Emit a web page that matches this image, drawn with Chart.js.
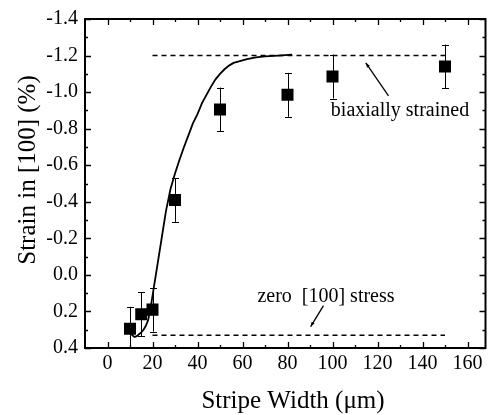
<!DOCTYPE html>
<html>
<head>
<meta charset="utf-8">
<script src="https://cdn.jsdelivr.net/npm/chart.js@4/dist/chart.umd.min.js"></script>
<style>
  html, body { margin: 0; padding: 0; background: #fff; }
  #wrap { width: 494px; height: 415px; }
</style>
</head>
<body>
<div id="wrap"><canvas id="myChart"></canvas></div>
<script>
// Messpunkte: Streifenbreite (µm) und Dehnung in [100] (%)
const widths = [10, 15, 20, 30, 50, 80, 100, 150];
const strain = [0.295, 0.215, 0.19, -0.41, -0.905, -0.985, -1.085, -1.14];
const strainErr = [0.12, 0.12, 0.12, 0.12, 0.12, 0.12, 0.12, 0.12];

// Modellkurve (durchgezogene Linie)
const fitX = [10, 11, 12, 13, 14, 15, 16, 17, 18, 19, 20, 22, 24, 26, 28, 30, 32, 34, 36, 38, 40, 42, 44, 46, 48, 50, 52, 54, 56, 58, 62, 66, 70, 76, 82];
const fitY = [0.30, 0.33, 0.34, 0.335, 0.325, 0.315, 0.30, 0.28, 0.25, 0.195, 0.115, -0.04, -0.195, -0.35, -0.47, -0.555, -0.63, -0.70, -0.765, -0.83, -0.88, -0.94, -0.985, -1.03, -1.07, -1.10, -1.125, -1.145, -1.16, -1.167, -1.18, -1.19, -1.195, -1.20, -1.205];

// Grenzlinien (gestrichelt)
const biaxialX = [20, 150];
const biaxialY = [-1.2, -1.2];
const zeroStressX = [20, 150];
const zeroStressY = [0.33, 0.33];

// Achsenbeschriftungen
const xTicks = [0, 20, 40, 60, 80, 100, 120, 140, 160];
const yTicks = [-1.4, -1.2, -1.0, -0.8, -0.6, -0.4, -0.2, 0.0, 0.2, 0.4];

const serif = "'Liberation Serif', 'Times New Roman', serif";

function pts(xs, ys) {
  return xs.map((x, i) => ({ x: x, y: ys[i] }));
}

// Rahmen, Ticks nach innen, Fehlerbalken, Beschriftungen
const decorations = {
  id: "decorations",
  beforeDatasetsDraw(chart) {
    const ctx = chart.ctx;
    const xs = chart.scales.x, ys = chart.scales.y;
    const a = chart.chartArea;
    ctx.save();
    ctx.beginPath();
    ctx.rect(a.left, a.top, a.right - a.left, a.bottom - a.top);
    ctx.clip();
    ctx.strokeStyle = "#000";
    ctx.lineWidth = 1;
    widths.forEach((w, i) => {
      const px = Math.round(xs.getPixelForValue(w)) + 0.5;
      const top = ys.getPixelForValue(strain[i] - strainErr[i]);
      const bot = ys.getPixelForValue(strain[i] + strainErr[i]);
      ctx.beginPath();
      ctx.moveTo(px, top); ctx.lineTo(px, bot);
      ctx.moveTo(px - 3.5, Math.round(top) + 0.5); ctx.lineTo(px + 3.5, Math.round(top) + 0.5);
      ctx.moveTo(px - 3.5, Math.round(bot) + 0.5); ctx.lineTo(px + 3.5, Math.round(bot) + 0.5);
      ctx.stroke();
    });
    ctx.restore();
  },
  afterDraw(chart) {
    const ctx = chart.ctx;
    const xs = chart.scales.x, ys = chart.scales.y;
    const a = chart.chartArea;
    ctx.save();
    ctx.strokeStyle = "#000";
    ctx.fillStyle = "#000";

    // Rahmen
    ctx.lineWidth = 2;
    ctx.strokeRect(a.left, a.top, a.right - a.left, a.bottom - a.top);

    // Ticks (innen, alle vier Seiten)
    ctx.lineWidth = 1.3;
    ctx.beginPath();
    for (let v = 0; v <= 160; v += 10) {
      const px = Math.round(xs.getPixelForValue(v)) + 0.5;
      const len = v % 20 === 0 ? 6 : 3;
      ctx.moveTo(px, a.bottom); ctx.lineTo(px, a.bottom - len);
      ctx.moveTo(px, a.top); ctx.lineTo(px, a.top + len);
    }
    for (let k = -14; k <= 4; k++) {
      const py = Math.round(ys.getPixelForValue(k / 10)) + 0.5;
      const len = k % 2 === 0 ? 6 : 3;
      ctx.moveTo(a.left, py); ctx.lineTo(a.left + len, py);
      ctx.moveTo(a.right, py); ctx.lineTo(a.right - len, py);
    }
    ctx.stroke();

    // Anmerkungen
    ctx.font = "20px " + serif;
    ctx.textAlign = "center";
    ctx.textBaseline = "middle";
    ctx.fillText("biaxially strained", xs.getPixelForValue(130), ys.getPixelForValue(-0.897));
    ctx.fillText("zero  [100] stress", xs.getPixelForValue(97.1), ys.getPixelForValue(0.119));

    function arrow(x1, y1, x2, y2) {
      const p1 = [xs.getPixelForValue(x1), ys.getPixelForValue(y1)];
      const p2 = [xs.getPixelForValue(x2), ys.getPixelForValue(y2)];
      ctx.lineWidth = 1.3;
      ctx.beginPath();
      ctx.moveTo(p1[0], p1[1]); ctx.lineTo(p2[0], p2[1]);
      ctx.stroke();
      const ang = Math.atan2(p2[1] - p1[1], p2[0] - p1[0]);
      ctx.beginPath();
      ctx.moveTo(p2[0], p2[1]);
      ctx.lineTo(p2[0] - 5 * Math.cos(ang - 0.35), p2[1] - 5 * Math.sin(ang - 0.35));
      ctx.lineTo(p2[0] - 5 * Math.cos(ang + 0.35), p2[1] - 5 * Math.sin(ang + 0.35));
      ctx.closePath();
      ctx.fill();
    }
    arrow(124.9, -0.979, 114.8, -1.16);
    arrow(96, 0.168, 90.3, 0.283);

    // Achsentitel
    ctx.font = "25px " + serif;
    ctx.textAlign = "center";
    ctx.textBaseline = "alphabetic";
    ctx.fillText("Stripe Width (\u03bcm)", 293, 408);
    ctx.translate(35, 170);
    ctx.rotate(-Math.PI / 2);
    ctx.fillText("Strain in [100] (%)", 0, 0);
    ctx.restore();
  }
};

let ctx = document.getElementById("myChart").getContext("2d");
new Chart(ctx, {
  type: "scatter",
  data: {
    datasets: [
      {
        data: pts(widths, strain),
        pointStyle: "rect",
        pointRadius: 8.5,
        pointHoverRadius: 8.5,
        backgroundColor: "#000",
        borderColor: "#000",
        borderWidth: 0,
        showLine: false,
      },
      {
        data: pts(fitX, fitY),
        showLine: true,
        pointRadius: 0,
        borderColor: "#000",
        borderWidth: 1.8,
        tension: 0,
      },
      {
        data: pts(biaxialX, biaxialY),
        showLine: true,
        pointRadius: 0,
        borderColor: "#000",
        borderWidth: 1.5,
        borderDash: [5, 4],
      },
      {
        data: pts(zeroStressX, zeroStressY),
        showLine: true,
        pointRadius: 0,
        borderColor: "#000",
        borderWidth: 1.5,
        borderDash: [5, 4],
      },
    ],
  },
  options: {
    responsive: true,
    maintainAspectRatio: false,
    animation: false,
    layout: { padding: { left: 0, top: 18, right: 2, bottom: 0 } },
    plugins: { legend: { display: false }, tooltip: { enabled: false } },
    scales: {
      x: {
        type: "linear",
        min: -10,
        max: 168,
        grid: { display: false, drawTicks: false },
        border: { display: false },
        afterBuildTicks: (s) => { s.ticks = xTicks.map((v) => ({ value: v })); },
        afterFit: (s) => { s.height = 67; },
        ticks: {
          color: "#000",
          font: { family: serif, size: 20 },
          padding: 4,
          maxRotation: 0,
          callback: (v) => String(v),
        },
      },
      y: {
        type: "linear",
        reverse: true,
        min: -1.4,
        max: 0.4,
        grid: { display: false, drawTicks: false },
        border: { display: false },
        afterBuildTicks: (s) => { s.ticks = yTicks.map((v) => ({ value: v })); },
        afterFit: (s) => { s.width = 85; },
        ticks: {
          color: "#000",
          font: { family: serif, size: 20 },
          padding: 7,
          callback: (v) => Number(v).toFixed(1),
        },
      },
    },
  },
  plugins: [decorations],
});
</script>
</body>
</html>
